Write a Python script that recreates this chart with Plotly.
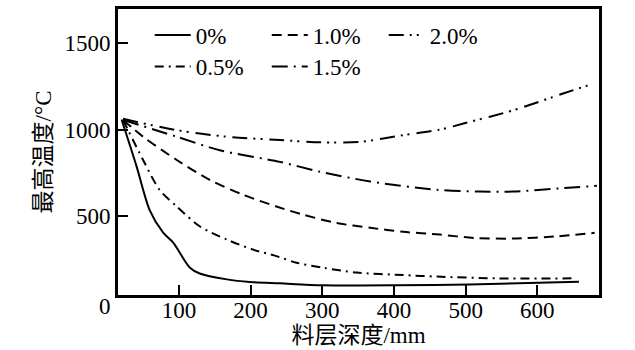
import plotly.graph_objects as go

FONT = "Liberation Serif, Times New Roman, Noto Sans CJK SC, serif"

# Data (depth in mm, max temperature in °C)
x_0 = [20, 41, 59, 78, 92, 101, 115, 129, 167, 199, 241, 301, 403, 505, 658]
y_0 = [1058, 787, 538, 406, 349, 292, 206, 171, 137, 122, 114, 103, 103, 108, 124]

x_05 = [22, 50, 73, 97, 129, 167, 203, 236, 264, 301, 348, 413, 460, 543, 653]
y_05 = [1056, 825, 653, 557, 443, 366, 309, 271, 233, 204, 176, 162, 153, 143, 143]

x_10 = [22, 50, 97, 143, 190, 236, 273, 320, 367, 413, 464, 511, 566, 627, 680]
y_10 = [1056, 959, 825, 710, 624, 557, 510, 462, 434, 411, 395, 376, 372, 385, 405]

x_15 = [22, 97, 157, 241, 297, 367, 460, 520, 566, 636, 683]
y_15 = [1056, 959, 881, 814, 757, 701, 653, 643, 643, 663, 676]

x_20 = [22, 97, 167, 241, 297, 353, 413, 464, 497, 566, 636, 678]
y_20 = [1062, 997, 959, 940, 927, 930, 968, 1000, 1035, 1111, 1208, 1265]

series_names = ["0%", "1.0%", "2.0%", "0.5%", "1.5%"]
legend_row = {"0%": "legend", "1.0%": "legend", "2.0%": "legend",
              "0.5%": "legend2", "1.5%": "legend2"}
x_ticks = [100, 200, 300, 400, 500, 600]
y_ticks = [500, 1000, 1500]
y_min, y_max = 47, 1695

series = {
    "0%": (x_0, y_0, "solid"),
    "0.5%": (x_05, y_05, "9px,5px,2px,5px"),
    "1.0%": (x_10, y_10, "10px,6px"),
    "1.5%": (x_15, y_15, "16px,6px,2px,6px"),
    "2.0%": (x_20, y_20, "15px,6px,2px,5px,2px,7px"),
}

fig = go.Figure()
for name in series_names:
    xs, ys, dash = series[name]
    fig.add_trace(go.Scatter(
        x=xs, y=ys, name=name, mode="lines", legend=legend_row[name],
        line=dict(color="black", width=2, dash=dash, shape="spline", smoothing=0.8),
    ))

axis_common = dict(
    showline=True, linewidth=3, linecolor="black", mirror=True,
    ticks="inside", ticklen=10, tickwidth=2, tickcolor="black",
    showgrid=False, zeroline=False, automargin=False,
    tickfont=dict(family=FONT, size=23, color="black"),
)

legend_common = dict(orientation="h", xanchor="left", yanchor="middle",
                     entrywidth=66, itemwidth=36, bgcolor="rgba(0,0,0,0)",
                     font=dict(family=FONT, size=23, color="black"))

fig.update_layout(
    width=635, height=350,
    margin=dict(l=118, r=36, t=9, b=55),
    paper_bgcolor="white", plot_bgcolor="white",
    font=dict(family=FONT, size=23, color="black"),
    xaxis=dict(range=[15, 686], tickvals=x_ticks, ticklabelstandoff=-8,
               title=dict(text="料层深度/mm", standoff=4,
                          font=dict(family=FONT, size=23)),
               **axis_common),
    yaxis=dict(range=[y_min, y_max], tickvals=y_ticks,
               title=dict(text="最高温度/°C", standoff=7,
                          font=dict(family=FONT, size=23)),
               **axis_common),
    legend=dict(x=0.066, y=0.909, **legend_common),
    legend2=dict(x=0.066, y=0.799, **legend_common),
    annotations=[dict(text="0", xref="paper", yref="paper",
                      x=0, y=(0 - y_min) / (y_max - y_min),
                      xanchor="right", yanchor="middle", xshift=-5, yshift=-3,
                      showarrow=False, font=dict(family=FONT, size=23))],
)

fig.write_html("out.html")
